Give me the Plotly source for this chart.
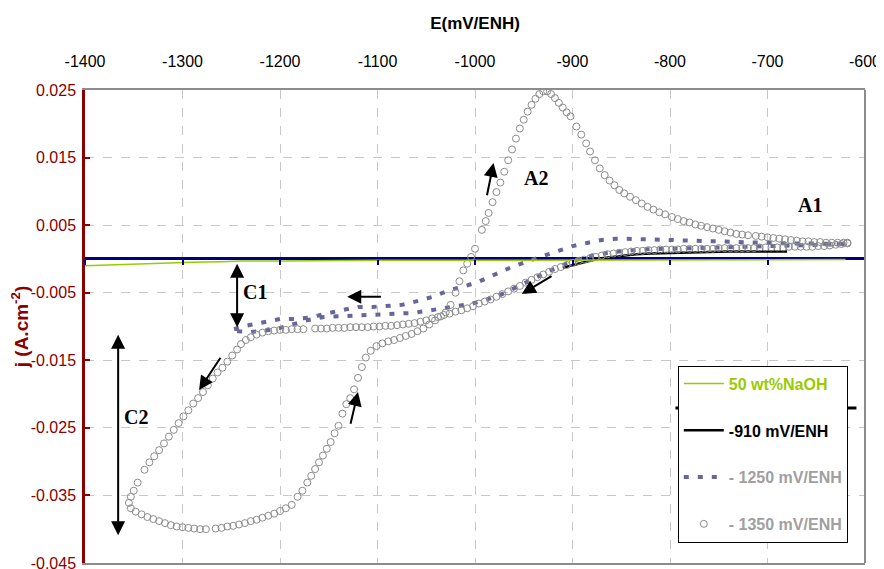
import plotly.graph_objects as go

# ---------------- axis ticks ----------------
x_ticks = [-1400, -1300, -1200, -1100, -1000, -900, -800, -700, -600]
x_tick_labels = ["-1400", "-1300", "-1200", "-1100", "-1000", "-900", "-800", "-700", "-600"]
y_ticks = [0.025, 0.015, 0.005, -0.005, -0.015, -0.025, -0.035, -0.045]
y_tick_labels = ["0.025", "0.015", "0.005", "-0.005", "-0.015", "-0.025", "-0.035", "-0.045"]
x_range = [-1400, -600]
y_range = [-0.045, 0.025]

# ---------------- series ----------------
series_names = ["50 wt%NaOH", "-910 mV/ENH", "- 1250 mV/ENH", "- 1350 mV/ENH"]

naoh_E = [-1400, -1380, -1350, -1320, -1290, -1260, -1240, -1200, -1150, -1100, -1050,
          -1000, -950, -900, -850, -800, -750, -700, -650, -620]
naoh_j = [-0.0010, -0.0009, -0.0007, -0.0006, -0.0005, -0.0004, -0.0003, -0.0003, -0.0002,
          -0.0002, -0.0002, -0.0002, -0.0002, -0.0001, -0.0001, -0.0001, -0.0001, -0.0001,
          -0.0001, -0.0001]

e910_E = [-910, -900, -890, -880, -870, -860, -850, -835, -820, -800, -780, -760, -740,
          -720, -700, -680]
e910_j = [-0.0013, -0.0009, -0.0005, -0.0002, 0.0001, 0.0003, 0.0005, 0.0007, 0.0008,
          0.0009, 0.0010, 0.0010, 0.0011, 0.0011, 0.0011, 0.0011]

e1250_E = [-620, -650, -680, -710, -740, -770, -800, -830, -860, -880, -900, -915, -930,
           -945, -960, -975, -990, -1005, -1020, -1035, -1050, -1065, -1080, -1095, -1110,
           -1125, -1140, -1155, -1170, -1185, -1200, -1215, -1230, -1245, -1250,
           -1235, -1215, -1200, -1185, -1170, -1150, -1135, -1120, -1105, -1090, -1075,
           -1058, -1043, -1026, -1012, -995, -979, -964, -947, -931, -916, -900, -884,
           -870, -855, -838, -820, -800, -780, -760, -740, -720, -700, -680, -660, -640,
           -620]
e1250_j = [0.0022, 0.0021, 0.0020, 0.0019, 0.0018, 0.0017, 0.0016, 0.0014, 0.0010, 0.0005,
           -0.0003, -0.0012, -0.0022, -0.0033, -0.0044, -0.0054, -0.0061, -0.0067, -0.0070,
           -0.0074, -0.0077, -0.0080, -0.0081, -0.0082, -0.0083, -0.0083, -0.0084, -0.0086,
           -0.0090, -0.0096, -0.0102, -0.0106, -0.0108, -0.0107, -0.0105,
           -0.0099, -0.0093, -0.0089, -0.0089, -0.0087, -0.0080, -0.0075, -0.0071, -0.0071,
           -0.0070, -0.0068, -0.0062, -0.0056, -0.0046, -0.0041, -0.0033, -0.0022, -0.0013,
           -0.0004, 0.0004, 0.0012, 0.0019, 0.0024, 0.0028, 0.0030, 0.0030, 0.0029, 0.0028,
           0.0027, 0.0026, 0.0025, 0.0025, 0.0024, 0.0023, 0.0023, 0.0022, 0.0022]

e1350_E = [
    -618, -624, -630, -636, -642, -648, -654, -660, -666, -672, -678, -684, -690, -696,
    -702, -708, -714, -720, -726, -732, -738, -744, -750, -756, -762, -768, -774, -780,
    -786, -792, -798, -804, -810, -816, -822, -828, -834, -840, -846, -852, -858, -864,
    -870, -876, -882, -888, -894, -900, -906, -912, -918, -924, -930, -936, -942, -948,
    -954, -960, -966, -972, -978, -984, -990, -996, -1002, -1008, -1014, -1020, -1026,
    -1032, -1038, -1044, -1050, -1056, -1062, -1068, -1074, -1080, -1086, -1092, -1098,
    -1104, -1110, -1116, -1122, -1128, -1134, -1140, -1146, -1152, -1158, -1164, -1176,
    -1182, -1188, -1194, -1200, -1206, -1212, -1218, -1224, -1230, -1235, -1240, -1244,
    -1249, -1254, -1259, -1264, -1269, -1274, -1279, -1284, -1289, -1294, -1299, -1304,
    -1309, -1314, -1319, -1324, -1329, -1334, -1339, -1346, -1350, -1353, -1355,
    -1353, -1348, -1342, -1336, -1330, -1324, -1318, -1312, -1306, -1300, -1294, -1288,
    -1282, -1276, -1266, -1260, -1254, -1248, -1242, -1236, -1230, -1224, -1218, -1212,
    -1206, -1200, -1194, -1188, -1182, -1177, -1172, -1168, -1164, -1160, -1156, -1152,
    -1148, -1144, -1140, -1136, -1132, -1128, -1124, -1120, -1116, -1112, -1107, -1101,
    -1095, -1089, -1083, -1077, -1071, -1065, -1059, -1053, -1047, -1041, -1035, -1030,
    -1025, -1020, -1016, -1012, -1008, -1004, -1000, -993, -989, -986, -982, -978, -974,
    -970, -966, -962, -958, -954, -950, -946, -942, -938, -934, -930, -926, -922, -918,
    -914, -910, -906, -902, -896, -891, -886, -882, -877, -872, -867, -862, -857, -852,
    -847, -841, -835, -829, -823, -817, -811, -805, -798, -792, -786, -780, -774, -768,
    -762, -756, -750, -744, -738, -732, -726, -720, -712, -706, -700, -694, -688, -682,
    -676, -670, -664, -658, -652, -646, -640, -634, -628, -622, -618]
e1350_j = [
    0.0023, 0.0022, 0.0021, 0.0020, 0.0019, 0.0019, 0.0018, 0.0018, 0.0018, 0.0018, 0.0018,
    0.0017, 0.0017, 0.0017, 0.0017, 0.0017, 0.0016, 0.0016, 0.0016, 0.0016, 0.0016, 0.0016,
    0.0016, 0.0015, 0.0015, 0.0015, 0.0015, 0.0015, 0.0015, 0.0014, 0.0014, 0.0014, 0.0014,
    0.0013, 0.0013, 0.0012, 0.0012, 0.0011, 0.0010, 0.0009, 0.0008, 0.0007, 0.0005, 0.0003,
    0.0001, -0.0001, -0.0003, -0.0006, -0.0009, -0.0012, -0.0015, -0.0019, -0.0023, -0.0027,
    -0.0031, -0.0035, -0.0040, -0.0044, -0.0048, -0.0052, -0.0056, -0.0060, -0.0063, -0.0066,
    -0.0070, -0.0073, -0.0076, -0.0078, -0.0081, -0.0083, -0.0086, -0.0088, -0.0091, -0.0093,
    -0.0095, -0.0096, -0.0097, -0.0098, -0.0099, -0.0099, -0.0100, -0.0100, -0.0101, -0.0101,
    -0.0101, -0.0101, -0.0102, -0.0102, -0.0102, -0.0103, -0.0103, -0.0103, -0.0104, -0.0104,
    -0.0104, -0.0105, -0.0105, -0.0106, -0.0107, -0.0109, -0.0112, -0.0116, -0.0120, -0.0126,
    -0.0134, -0.0143, -0.0152, -0.0161, -0.0168, -0.0177, -0.0187, -0.0197, -0.0206, -0.0214,
    -0.0224, -0.0233, -0.0243, -0.0253, -0.0263, -0.0273, -0.0283, -0.0292, -0.0301, -0.0312,
    -0.0331, -0.0343, -0.0352, -0.0361,
    -0.0369, -0.0374, -0.0378, -0.0382, -0.0385, -0.0388, -0.0391, -0.0394, -0.0396, -0.0397,
    -0.0398, -0.0399, -0.0400, -0.0400, -0.0399, -0.0398, -0.0396, -0.0395, -0.0393, -0.0391,
    -0.0388, -0.0386, -0.0383, -0.0380, -0.0377, -0.0373, -0.0369, -0.0364, -0.0352, -0.0343,
    -0.0331, -0.0321, -0.0311, -0.0301, -0.0291, -0.0281, -0.0271, -0.0258, -0.0247, -0.0229,
    -0.0215, -0.0206, -0.0193, -0.0176, -0.0160, -0.0146, -0.0136, -0.0129, -0.0125, -0.0122,
    -0.0120, -0.0117, -0.0114, -0.0111, -0.0107, -0.0103, -0.0097, -0.0091, -0.0085, -0.0079,
    -0.0068, -0.0050, -0.0033, -0.0017, -0.0007, 0.0003, 0.0015, 0.0043, 0.0056, 0.0068,
    0.0084, 0.0099, 0.0113, 0.0129, 0.0146, 0.0162, 0.0178, 0.0193, 0.0206, 0.0218, 0.0228,
    0.0237, 0.0244, 0.0248, 0.0248, 0.0244, 0.0238, 0.0231, 0.0224, 0.0217, 0.0211, 0.0196,
    0.0184, 0.0171, 0.0159, 0.0146, 0.0134, 0.0124, 0.0116, 0.0109, 0.0102, 0.0097, 0.0092,
    0.0087, 0.0082, 0.0077, 0.0073, 0.0069, 0.0066, 0.0062, 0.0059, 0.0056, 0.0054, 0.0051,
    0.0049, 0.0047, 0.0045, 0.0043, 0.0041, 0.0039, 0.0037, 0.0036, 0.0035, 0.0034, 0.0033,
    0.0032, 0.0031, 0.0030, 0.0029, 0.0028, 0.0027, 0.0026, 0.0026, 0.0025, 0.0025, 0.0024,
    0.0024, 0.0024, 0.0024, 0.0024]

# ---------------- styles ----------------
SANS = "Liberation Sans Narrow, Arial Narrow, Liberation Sans, Arial, sans-serif"
SERIF = "Liberation Serif, Times New Roman, serif"
DARKRED = "#8B0000"
GREEN = "#99CC00"
SLATE = "#666699"
GREY = "#8C8C8C"
LGREY = "#A0A0A0"

fig = go.Figure()

fig.add_trace(go.Scatter(
    x=naoh_E, y=naoh_j, mode="lines", xaxis="x2",
    line=dict(color=GREEN, width=1.5), legendgroup="a",
    name=f"<span style='color:{GREEN}'><b>{series_names[0]}</b></span>"))
fig.add_trace(go.Scatter(
    x=e910_E, y=e910_j, mode="lines",
    line=dict(color="black", width=2.5), legendgroup="b",
    name=f"<span style='color:black'><b>{series_names[1]}</b></span>"))
fig.add_trace(go.Scatter(
    x=e1250_E, y=e1250_j, mode="lines",
    line=dict(color=SLATE, width=4, dash="5px,9px"), legendgroup="c",
    name=f"<span style='color:{LGREY}'><b>{series_names[2]}</b></span>"))
fig.add_trace(go.Scatter(
    x=e1350_E, y=e1350_j, mode="markers",
    marker=dict(symbol="circle-open", size=7, color=GREY, line=dict(width=1)),
    legendgroup="d",
    name=f"<span style='color:{LGREY}'><b>{series_names[3]}</b></span>"))

zero_pos = (0 - y_range[0]) / (y_range[1] - y_range[0])

# the page body adds an 8px margin, so the figure is 8px smaller on each
# axis and the margins are shifted to keep the plot where the reference has it
fig.update_layout(
    width=876, height=561,
    margin=dict(l=77, r=19, t=82, b=6),
    plot_bgcolor="white", paper_bgcolor="white",
    font=dict(family=SANS, size=16, color="black"),
    xaxis=dict(
        range=x_range, side="top", tickvals=x_ticks, ticktext=x_tick_labels,
        ticks="", ticklabelstandoff=15, automargin=False, ticklabeloverflow="allow",
        tickfont=dict(family=SANS, size=16, color="black"),
        showgrid=True, gridcolor="#C8C8C8", griddash="dash", gridwidth=1,
        showline=True, linecolor="#8C8C8C", linewidth=2, mirror=True,
        zeroline=False,
        title=dict(text="<b>E(mV/ENH)</b>", standoff=19,
                   font=dict(family=SANS, size=17, color="black")),
    ),
    xaxis2=dict(
        range=x_range, overlaying="x", anchor="free", position=zero_pos,
        side="bottom", tickvals=x_ticks, ticks="outside", ticklen=5,
        tickcolor="#000080", tickwidth=2, showticklabels=False, automargin=False,
        showgrid=False, zeroline=False, showline=False,
    ),
    yaxis=dict(
        range=y_range, tickvals=y_ticks, ticktext=y_tick_labels,
        ticks="inside", ticklen=5, tickcolor=DARKRED, tickwidth=2,
        ticklabelstandoff=3, automargin=False, ticklabeloverflow="allow",
        tickfont=dict(family=SANS, size=16, color=DARKRED),
        showgrid=True, gridcolor="#C8C8C8", griddash="dash", gridwidth=1,
        showline=True, linecolor=DARKRED, linewidth=2.5, mirror=False,
        zeroline=True, zerolinecolor="#000080", zerolinewidth=2.5,
        title=dict(text="<b>j (A.cm<sup>-2</sup>)</b>", standoff=0,
                   font=dict(family=SANS, size=19, color=DARKRED)),
    ),
    legend=dict(
        x=0.760, y=0.4174, xanchor="left", yanchor="top",
        bgcolor="white", bordercolor="black", borderwidth=1,
        font=dict(family=SANS, size=16), tracegroupgap=23,
        itemwidth=40,
    ),
    showlegend=True,
)

# right border of the plot frame
fig.add_shape(type="line", xref="paper", yref="paper", x0=1, x1=1, y0=0, y1=1,
              line=dict(color="#8C8C8C", width=2))
# separator line inside the legend
fig.add_shape(type="line", xref="paper", yref="paper", x0=0.757, x1=0.989,
              y0=0.3277, y1=0.3277, line=dict(color="black", width=3))

# arrows
arrow_style = dict(showarrow=True, arrowhead=2, arrowsize=1.4, arrowwidth=2,
                   arrowcolor="black", text="", xref="x", yref="y",
                   axref="x", ayref="y")
arrows = [
    # (tail_x, tail_y, head_x, head_y, double)
    (-1244, -0.0005, -1244, -0.0101, True),
    (-1366, -0.0110, -1366, -0.0409, True),
    (-988, 0.0092, -981, 0.0142, False),
    (-1128, -0.0246, -1120, -0.0197, False),
    (-1260, -0.0144, -1283, -0.0194, False),
    (-1095, -0.0056, -1131, -0.0056, False),
    (-920, -0.0024, -952, -0.0052, False),
]
for tx, ty, hx, hy, dbl in arrows:
    a = dict(arrow_style, x=hx, y=hy, ax=tx, ay=ty)
    if dbl:
        a.update(arrowside="end+start", startarrowhead=2, startarrowsize=1.4)
    fig.add_annotation(**a)

labels = [("C1", -1226, -0.0049), ("C2", -1348, -0.0234),
          ("A2", -937, 0.0120), ("A1", -656, 0.0080)]
for txt, lx, ly in labels:
    fig.add_annotation(x=lx, y=ly, xref="x", yref="y", text=f"<b>{txt}</b>",
                       showarrow=False,
                       font=dict(family=SERIF, size=20, color="black"))

fig.write_html("out.html")
